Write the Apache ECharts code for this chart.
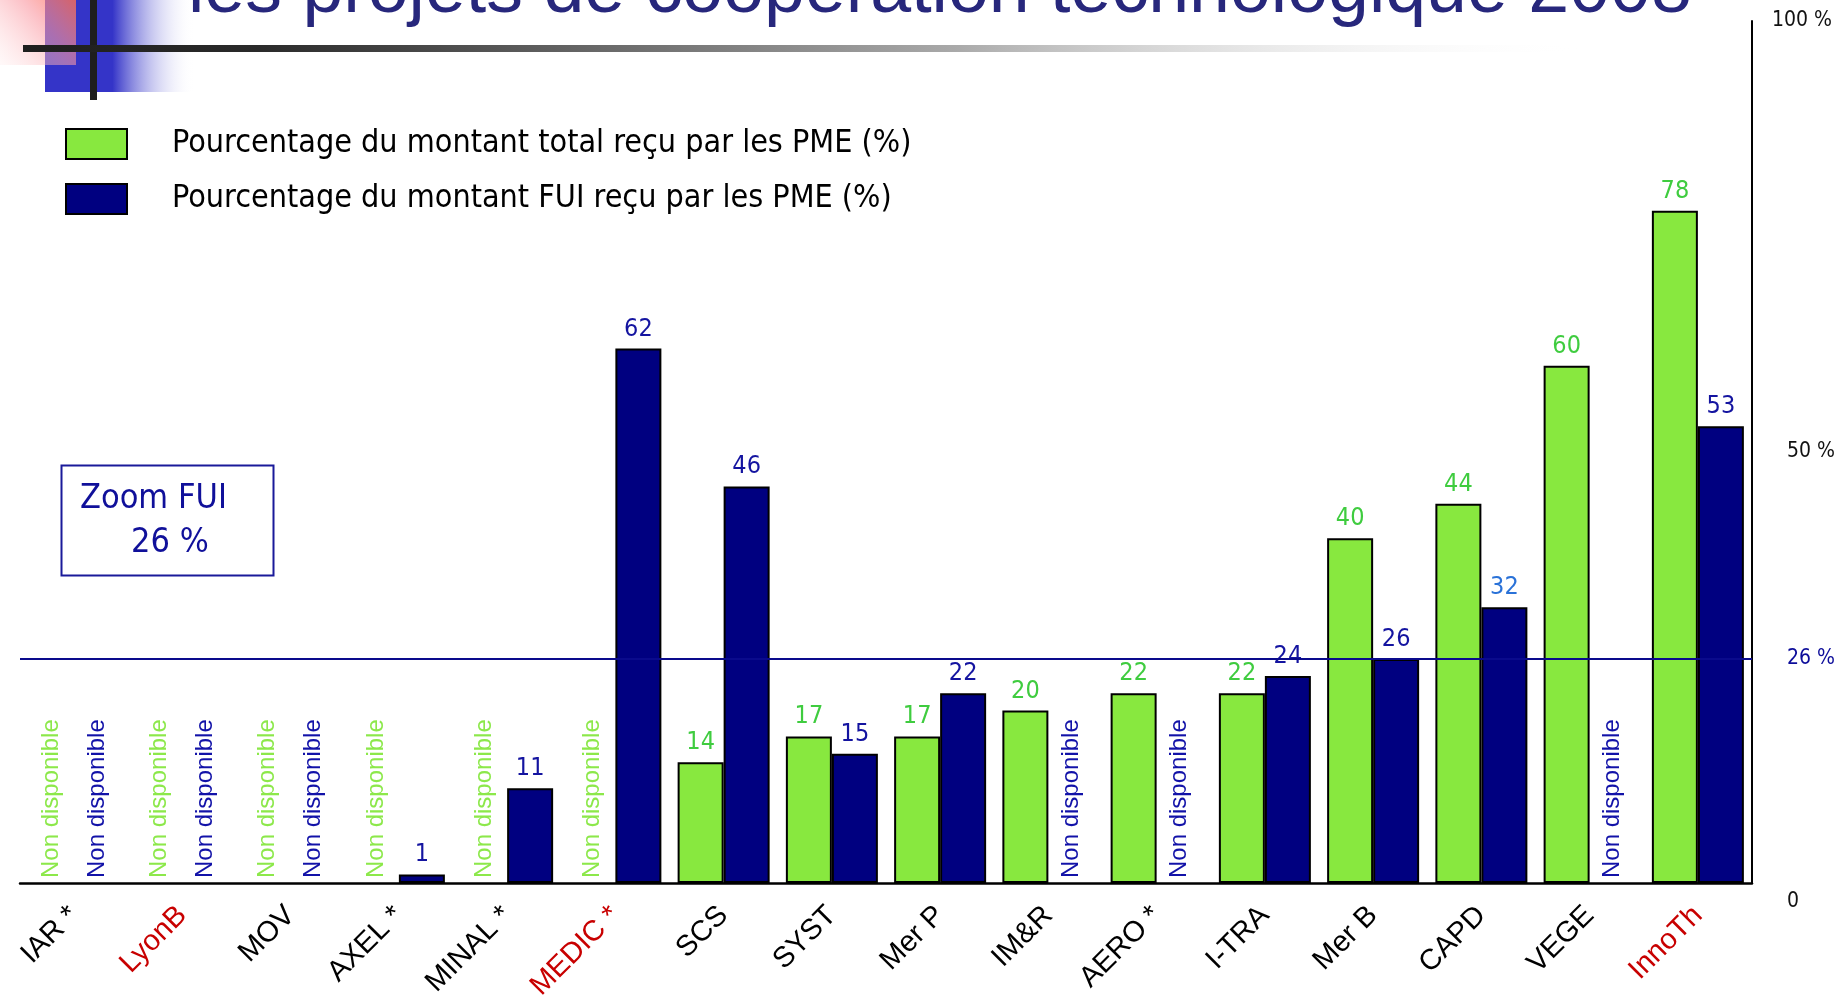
<!DOCTYPE html>
<html lang="fr">
<head>
<meta charset="UTF-8">
<title>Projets de coopération technologique 2008</title>
<script src="https://cdn.jsdelivr.net/npm/echarts@6/dist/echarts.min.js"></script>
<style>
    html, body { margin: 0; padding: 0; background: #fff; }
    #main { width: 1841px; height: 1001px; }
</style>
</head>
<body>
<div id="main"></div>
<script>
    // pôles + valeurs lues sur la diapo (null = "Non disponible")
    var poles = ['IAR *', 'LyonB', 'MOV', 'AXEL *', 'MINAL *', 'MEDIC *', 'SCS', 'SYST', 'Mer P',
        'IM&R', 'AERO *', 'I-TRA', 'Mer B', 'CAPD', 'VEGE', 'InnoTh'];
    var polesEnRouge = ['LyonB', 'MEDIC *', 'InnoTh'];
    var partTotale = [null, null, null, null, null, null, 14, 17, 17, 20, 22, 22, 40, 44, 60, 78];
    var partFui = [null, null, null, 1, 11, 62, 46, 15, 22, null, null, 24, 26, 32, null, 53];
    var moyenneFui = 26;
    var graduations = [0, 26, 50, 100];

    var VERT = '#88e83f';
    var BLEU = '#000080';
    var NARROW = '"Liberation Sans Narrow", "DejaVu Sans Condensed", "Liberation Sans", sans-serif';
    var SANS = '"Liberation Sans", Arial, sans-serif';

    // couleur des étiquettes isolées (le 32 de CAPD est plus clair)
    var couleurEtiquetteFui = {13: '#2a72d8'};

    function buildData(values, ndColor, labelColors) {
        return values.map(function (v, i) {
            if (v === null) {
                return {
                    value: 0,
                    itemStyle: {color: 'transparent', borderWidth: 0},
                    label: {
                        show: true,
                        formatter: 'Non disponible',
                        position: 'insideBottom',
                        distance: 5,
                        rotate: 90,
                        align: 'left',
                        verticalAlign: 'middle',
                        fontFamily: SANS,
                        fontSize: 24,
                        color: ndColor
                    }
                };
            }
            if (labelColors && labelColors[i]) {
                return {value: v, label: {color: labelColors[i]}};
            }
            return v;
        });
    }

    var chart = echarts.init(document.getElementById('main'));

    var option = {
        backgroundColor: '#fff',
        animation: false,
        grid: {left: 20, right: 89, top: 21, bottom: 118, containLabel: false, outerBoundsMode: 'none'},
        legend: {
            left: 60,
            top: 123,
            orient: 'vertical',
            icon: 'rect',
            itemWidth: 61,
            itemHeight: 30,
            itemGap: 23,
            selectedMode: false,
            textStyle: {fontFamily: NARROW, fontSize: 32, color: '#000', padding: [6, 0, 0, 40]},
            data: ['Pourcentage du montant total reçu par les PME (%)', 'Pourcentage du montant FUI reçu par les PME (%)']
        },
        xAxis: {
            type: 'category',
            data: poles.map(function (p) {
                return polesEnRouge.indexOf(p) >= 0 ? {value: p, textStyle: {color: '#c80000'}} : p;
            }),
            axisLine: {lineStyle: {color: '#000', width: 2.5}},
            axisTick: {show: false},
            axisLabel: {
                interval: 0,
                rotate: 45,
                margin: 28,
                fontFamily: SANS,
                fontSize: 29,
                color: '#000'
            }
        },
        yAxis: {
            type: 'value',
            position: 'right',
            min: 0,
            max: 100,
            splitLine: {show: false},
            axisTick: {show: false},
            axisLine: {show: true, lineStyle: {color: '#000', width: 2}},
            axisLabel: {
                customValues: graduations,
                margin: 20,
                fontFamily: NARROW,
                fontSize: 21,
                color: '#111',
                formatter: function (v) {
                    if (v === 0) return '{zero|0}';
                    if (v === moyenneFui) return '{moy|' + v + ' %}';
                    if (v === 100) return '{top|' + v + ' %}';
                    return '{n|' + v + ' %}';
                },
                rich: {
                    top: {fontFamily: NARROW, fontSize: 21, color: '#111'},
                    n: {fontFamily: NARROW, fontSize: 21, color: '#111', padding: [0, 0, 0, 15]},
                    zero: {fontFamily: NARROW, fontSize: 21, color: '#111', padding: [38, 0, 0, 15]},
                    moy: {fontFamily: NARROW, fontSize: 21, color: '#0c0c9a', padding: [0, 0, 0, 15]}
                }
            }
        },
        series: [{
            name: 'Pourcentage du montant total reçu par les PME (%)',
            type: 'bar',
            barWidth: 46,
            barGap: '0%',
            itemStyle: {color: VERT, borderColor: '#000', borderWidth: 2},
            label: {
                show: true,
                position: 'top',
                distance: 7,
                fontFamily: NARROW,
                fontSize: 25,
                color: '#3fcc3f'
            },
            data: buildData(partTotale, '#8ce84a')
        }, {
            name: 'Pourcentage du montant FUI reçu par les PME (%)',
            type: 'bar',
            barWidth: 46,
            barGap: '0%',
            itemStyle: {color: BLEU, borderColor: '#000', borderWidth: 2},
            label: {
                show: true,
                position: 'top',
                distance: 7,
                fontFamily: NARROW,
                fontSize: 25,
                color: '#1414a0'
            },
            markLine: {
                silent: true,
                symbol: 'none',
                label: {show: false},
                lineStyle: {color: '#0a0a8c', width: 2, type: 'solid'},
                data: [{yAxis: moyenneFui}]
            },
            data: buildData(partFui, '#1212a8', couleurEtiquetteFui)
        }],
        graphic: [
            // décor de la diapo en haut à gauche
            {
                type: 'rect', left: 45, top: 0, z: 1,
                shape: {width: 150, height: 92},
                style: {
                    fill: new echarts.graphic.LinearGradient(0, 0, 1, 0, [
                        {offset: 0, color: '#3434c8'},
                        {offset: 0.45, color: '#3434c8'},
                        {offset: 1, color: 'rgba(255,255,255,0)'}
                    ])
                }
            },
            {
                type: 'rect', left: 0, top: 0, z: 2,
                shape: {width: 76, height: 65},
                style: {
                    fill: new echarts.graphic.LinearGradient(0, 1, 1, 0, [
                        {offset: 0, color: 'rgba(255,235,235,0.3)'},
                        {offset: 0.6, color: 'rgba(250,150,160,0.6)'},
                        {offset: 1, color: 'rgba(255,110,80,0.8)'}
                    ])
                }
            },
            {
                type: 'rect', left: 90, top: 0, z: 3,
                shape: {width: 7, height: 100},
                style: {fill: '#1e1e1e'}
            },
            {
                type: 'rect', left: 23, top: 45, z: 3,
                shape: {width: 1560, height: 7},
                style: {
                    fill: new echarts.graphic.LinearGradient(0, 0, 1, 0, [
                        {offset: 0, color: '#1e1e1e'},
                        {offset: 0.15, color: '#2a2a2a'},
                        {offset: 0.6, color: '#aaaaaa'},
                        {offset: 1, color: 'rgba(255,255,255,0)'}
                    ])
                }
            },
            // titre coupé en haut de la diapo
            {
                type: 'text', x: 188, y: 29, z: 4,
                style: {
                    text: 'les projets de coopération technologique 2008',
                    font: '73.5px ' + SANS,
                    fill: '#27277c',
                    textVerticalAlign: 'bottom'
                }
            },
            // encadré "Zoom FUI"
            {
                type: 'rect', left: 59, top: 463, z: 4,
                shape: {width: 212, height: 110},
                style: {fill: 'none', stroke: '#1a1a9a', lineWidth: 2}
            },
            {
                type: 'text', x: 80, y: 499, z: 4,
                style: {text: 'Zoom FUI', font: '34px ' + NARROW, fill: '#10109a', textVerticalAlign: 'middle'}
            },
            {
                type: 'text', x: 131, y: 543, z: 4,
                style: {text: moyenneFui + ' %', font: '34px ' + NARROW, fill: '#10109a', textVerticalAlign: 'middle'}
            }
        ]
    };

    chart.setOption(option);
</script>
</body>
</html>
